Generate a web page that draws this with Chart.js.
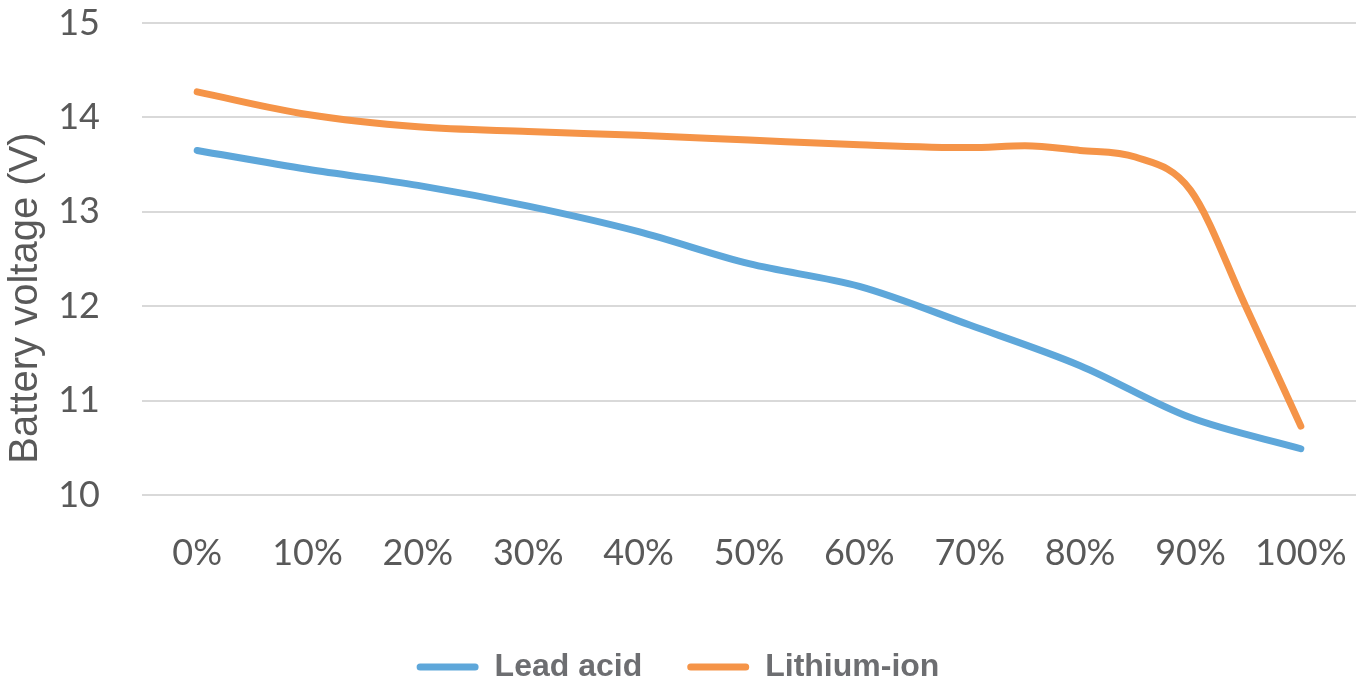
<!DOCTYPE html>
<html>
<head>
<meta charset="utf-8">
<script src="https://cdn.jsdelivr.net/npm/chart.js@4/dist/chart.umd.min.js"></script>
<style>
  html, body { margin: 0; padding: 0; background: #ffffff; overflow: hidden; }
  #wrap { width: 1364px; height: 679px; }
</style>
</head>
<body>
<div id="wrap"><canvas id="c" width="1364" height="679"></canvas></div>
<script>
// ---- data ----
const xTickValues = [0, 10, 20, 30, 40, 50, 60, 70, 80, 90, 100];
const xTickLabels = ['0%', '10%', '20%', '30%', '40%', '50%', '60%', '70%', '80%', '90%', '100%'];
const yTickValues = [10, 11, 12, 13, 14, 15];

const leadX = [0, 10, 20, 30, 40, 50, 60, 70, 80, 90, 100];
const leadV = [13.65, 13.45, 13.28, 13.06, 12.79, 12.45, 12.21, 11.80, 11.37, 10.82, 10.49];

const lithX = [0, 10, 20, 30, 40, 50, 60, 70, 75, 80, 85, 90, 95, 100];
const lithV = [14.27, 14.03, 13.90, 13.85, 13.81, 13.76, 13.71, 13.68, 13.70, 13.65, 13.58, 13.23, 12.00, 10.73];

const seriesNames = ['Lead acid', 'Lithium-ion'];
const yTitle = 'Battery voltage (V)';

// ---- styles ----
const BLUE = '#5ea7da';
const ORANGE = '#f59448';
const TICK = '#595959';

const pairs = (xs, ys) => xs.map((x, i) => ({ x: x, y: ys[i] }));

const tweak = {
  id: 'tweak',
  afterLayout(chart) {
    const lg = chart.legend;
    if (lg) { lg.top += 14; lg.bottom += 14; }
    const ys = chart.scales.y;
    if (ys && !ys._wrappedTitle) {
      const orig = ys.drawTitle;
      ys.drawTitle = function () {
        const c = this.ctx;
        c.save();
        c.translate(0, 39);
        orig.call(this);
        c.restore();
      };
      ys._wrappedTitle = true;
    }
  }
};

new Chart(document.getElementById('c'), {
  type: 'line',
  data: {
    datasets: [
      {
        label: seriesNames[0],
        data: pairs(leadX, leadV),
        borderColor: BLUE,
        backgroundColor: BLUE,
        borderWidth: 7,
        borderCapStyle: 'round',
        borderJoinStyle: 'round',
        pointRadius: 0,
        tension: 0.33,
        fill: false
      },
      {
        label: seriesNames[1],
        data: pairs(lithX, lithV),
        borderColor: ORANGE,
        backgroundColor: ORANGE,
        borderWidth: 7,
        borderCapStyle: 'round',
        borderJoinStyle: 'round',
        pointRadius: 0,
        cubicInterpolationMode: 'monotone',
        tension: 0.4,
        fill: false
      }
    ]
  },
  options: {
    responsive: false,
    animation: false,
    devicePixelRatio: 1,
    layout: { padding: { top: 23, right: 8, left: 0, bottom: 0 } },
    plugins: {
      tooltip: { enabled: false },
      legend: {
        position: 'bottom',
        align: 'center',
        labels: {
          boxWidth: 62,
          boxHeight: 7,
          padding: 45,
          useBorderRadius: true,
          borderRadius: 3.5,
          color: '#6d6e71',
          font: { family: '"Liberation Sans", Arial, sans-serif', size: 32, weight: 'bold' },
          generateLabels: (chart) =>
            Chart.defaults.plugins.legend.labels.generateLabels(chart).map(l => ({
              ...l, lineWidth: 0, fillStyle: l.strokeStyle
            }))
        }
      }
    },
    scales: {
      x: {
        type: 'linear',
        min: -5,
        max: 105,
        afterBuildTicks: (s) => { s.ticks = xTickValues.map(v => ({ value: v })); },
        afterFit: (s) => { s.height = 97; s.paddingLeft = 0; s.paddingRight = 0; },
        grid: { display: false, drawTicks: false },
        border: { display: false },
        ticks: {
          padding: 37,
          color: TICK,
          maxRotation: 0,
          autoSkip: false,
          font: { family: 'Lato, sans-serif', size: 36 },
          callback: (v) => xTickLabels[xTickValues.indexOf(v)]
        }
      },
      y: {
        min: 10,
        max: 15,
        afterBuildTicks: (s) => { s.ticks = yTickValues.map(v => ({ value: v })); },
        afterFit: (s) => { s.width = 142; s.paddingTop = 0; s.paddingBottom = 0; },
        grid: { color: '#d9d9d9', lineWidth: 2, drawTicks: false },
        border: { display: false },
        ticks: {
          padding: 42,
          color: TICK,
          font: { family: 'Lato, sans-serif', size: 36 },
          callback: (v) => String(v)
        },
        title: {
          display: true,
          text: yTitle,
          color: TICK,
          font: { family: '"Liberation Sans", Arial, sans-serif', size: 40 },
          padding: { top: 2, bottom: 0 }
        }
      }
    }
  },
  plugins: [tweak]
});
</script>
</body>
</html>
